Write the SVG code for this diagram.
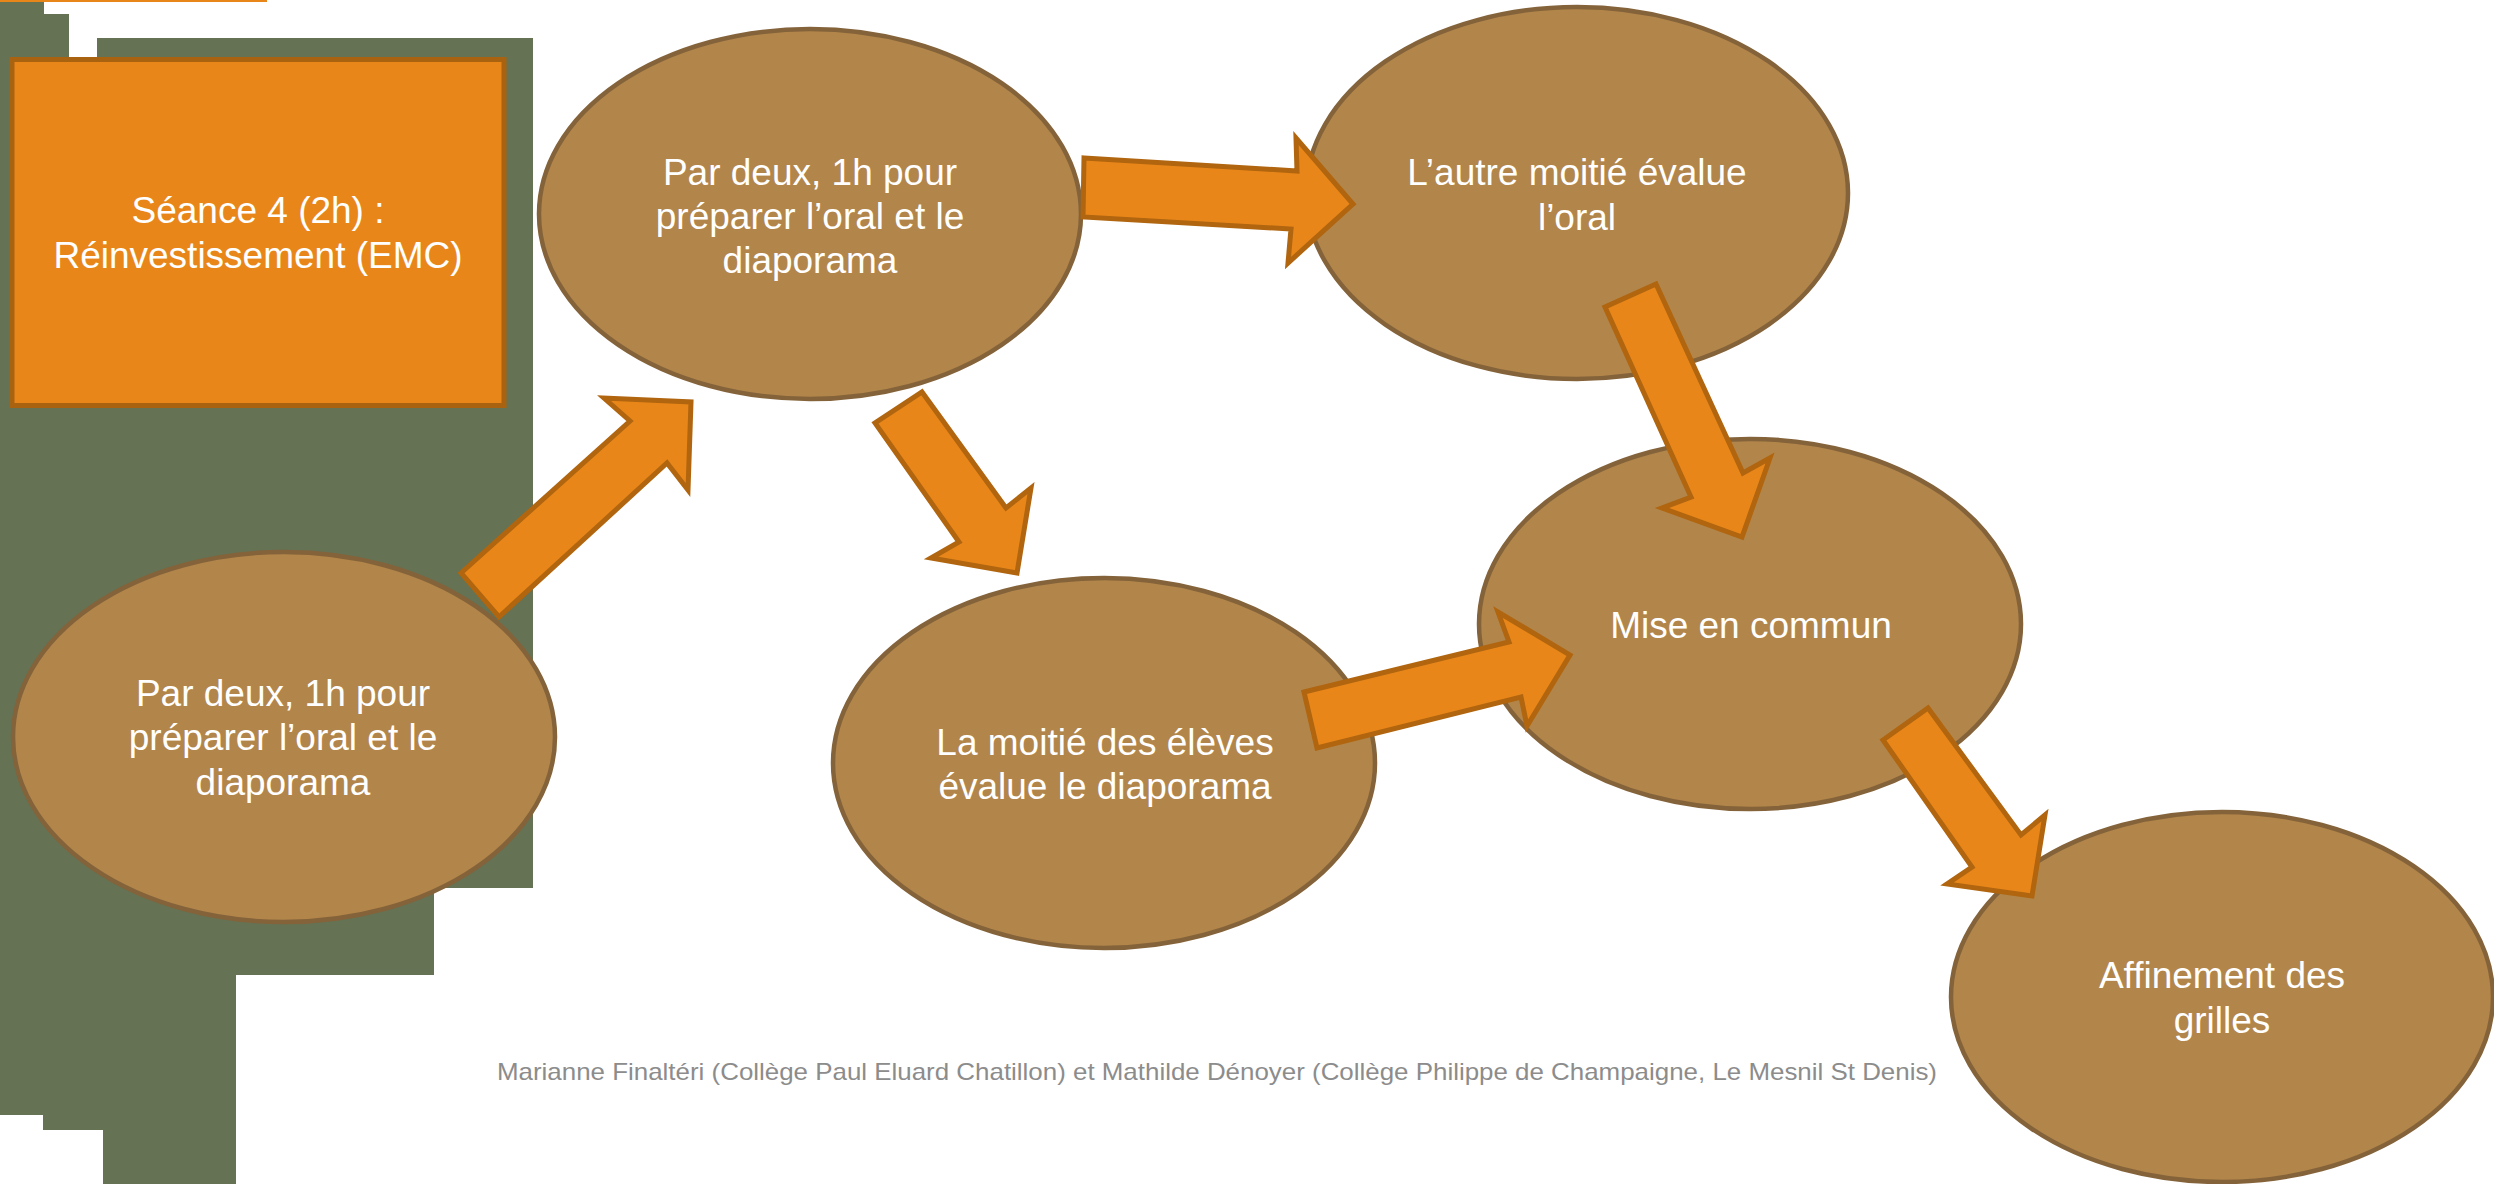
<svg xmlns="http://www.w3.org/2000/svg" width="2494" height="1184" viewBox="0 0 2494 1184">
<style>
.node{fill:#B2854A;stroke:#84633A;stroke-width:4.5}
.lbl{font-family:"Liberation Sans",Arial,sans-serif;font-size:37px;fill:#FFFFFF;text-anchor:middle}
.arrow{fill:#E8861A;stroke:#B0650E;stroke-width:5;stroke-linejoin:miter}
.foot{font-family:"Liberation Sans",Arial,sans-serif;font-size:24px;fill:#8C8C8C}
</style>
<rect x="0" y="0" width="2494" height="1184" fill="#FFFFFF"/>
<g id="background">
<polygon fill="#657253" points="0,0 44,0 44,14 69,14 69,57 97,57 97,38 533,38 533,888 434,888 434,975 236,975 236,1184 103,1184 103,1130 43,1130 43,1115 0,1115"/>
<rect x="0" y="0" width="267" height="2" fill="#E8861A"/>
</g>
<g id="title">
<rect x="12" y="59.5" width="492" height="346" fill="#E8861A" stroke="#A9620F" stroke-width="5"/>
<text class="lbl" x="258" y="223">Séance 4 (2h) :</text>
<text class="lbl" x="258" y="268">Réinvestissement (EMC)</text>
</g>
<g id="n1">
<ellipse class="node" cx="284" cy="737" rx="271" ry="185"/>
<text class="lbl" x="283" y="706">Par deux, 1h pour</text>
<text class="lbl" x="283" y="750">préparer l’oral et le</text>
<text class="lbl" x="283" y="795">diaporama</text>
</g>
<g id="n2">
<ellipse class="node" cx="810" cy="214" rx="271" ry="185"/>
<text class="lbl" x="810" y="185">Par deux, 1h pour</text>
<text class="lbl" x="810" y="229">préparer l’oral et le</text>
<text class="lbl" x="810" y="273">diaporama</text>
</g>
<g id="n3">
<ellipse class="node" cx="1577" cy="193" rx="271" ry="186"/>
<text class="lbl" x="1577" y="185">L’autre moitié évalue</text>
<text class="lbl" x="1577" y="230">l’oral</text>
</g>
<g id="n4">
<ellipse class="node" cx="1104" cy="763" rx="271" ry="185"/>
<text class="lbl" x="1105" y="755">La moitié des élèves</text>
<text class="lbl" x="1105" y="799">évalue le diaporama</text>
</g>
<g id="n5">
<ellipse class="node" cx="1750" cy="624" rx="271" ry="185"/>
<text class="lbl" x="1751" y="638">Mise en commun</text>
</g>
<g id="n6">
<ellipse class="node" cx="2222" cy="997" rx="271" ry="185"/>
<text class="lbl" x="2222" y="988">Affinement des</text>
<text class="lbl" x="2222" y="1033">grilles</text>
</g>
<g id="connectors">
<polygon class="arrow" points="461,573 630,421 604,398 691,402 688,490 667,463 499,617"/>
<polygon class="arrow" points="922,392 1006,508 1031,488 1017,573 931,558 959,542 875,423"/>
<polygon class="arrow" points="1084,158 1297,171 1296,138 1353,204 1288,263 1291,229 1083,217"/>
<polygon class="arrow" points="1656,284 1743,473 1770,458 1742,537 1662,508 1691,497 1605,307"/>
<polygon class="arrow" points="1304,692 1509,642 1498,612 1570,655 1527,726 1521,697 1317,748"/>
<polygon class="arrow" points="1928,708 2021,835 2045,815 2032,896 1947,884 1972,867 1883,740"/>
</g>
<text class="foot" x="497" y="1080" textLength="1440" lengthAdjust="spacingAndGlyphs">Marianne Finaltéri (Collège Paul Eluard Chatillon) et Mathilde Dénoyer (Collège Philippe de Champaigne, Le Mesnil St Denis)</text>
</svg>
